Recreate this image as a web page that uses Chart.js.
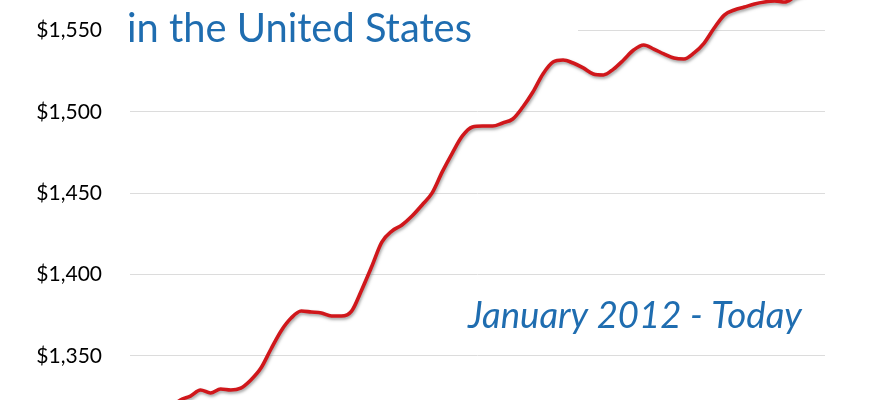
<!DOCTYPE html>
<html>
<head>
<meta charset="utf-8">
<script src="https://cdn.jsdelivr.net/npm/chart.js@4.4.0/dist/chart.umd.min.js"></script>
<style>
html,body{margin:0;padding:0;background:#fff;overflow:hidden;}
#c{display:block;}
</style>
</head>
<body>
<canvas id="c" width="870" height="400"></canvas>
<script>
// Monthly labels, January 2012 onward
const startYear = 2012;
const monthNames = ["Jan","Feb","Mar","Apr","May","Jun","Jul","Aug","Sep","Oct","Nov","Dec"];
const values = [
  1300,1305,1310,1314,1318,1323,1325.4,1329.1,1327.3,1329.7,
  1329.1,1330.3,1335.3,1342.6,1354.3,1365.4,1373.3,1377.6,1377.0,1376.4,
  1374.6,1374.6,1377.6,1390.6,1405.0,1420.0,1426.8,1430.5,1436.0,1442.8,
  1450.2,1463.1,1474.7,1485.2,1490.7,1491.3,1491.3,1493.2,1495.6,1503.0,
  1512.2,1523.3,1530.6,1531.9,1530.0,1527.0,1523.3,1522.7,1526.3,1531.9,
  1538.0,1541.1,1538.6,1535.6,1533.1,1532.5,1536.2,1542.3,1551.5,1559.5,
  1562.6,1564.4,1566.3,1567.5,1568.1,1567.5,1570.6,1573.0,1575.0,1577.0
];
const categories = values.map((v,i)=> monthNames[i%12] + " " + (startYear + Math.floor(i/12)));
const tickValues = [1350,1400,1450,1500,1550];
const titleText = "in the United States";
const subtitleText = "January 2012 - Today";

const BLUE = "#1f6db0";
const RED = "#d0171b";

const overlay = {
  id: "overlay",
  beforeDatasetsDraw(chart) {
    const ctx = chart.ctx;
    ctx.save();
    // white box behind title (covers top gridline)
    ctx.fillStyle = "#fff";
    ctx.fillRect(120, 0, 458, 56);
    ctx.fillStyle = BLUE;
    ctx.textBaseline = "alphabetic";
    ctx.textAlign = "left";
    let fs = 36;
    ctx.font = fs + "px Lato";
    let w = ctx.measureText(titleText).width;
    fs = fs * 345 / w;
    ctx.font = fs.toFixed(2) + "px Lato";
    ctx.fillText(titleText, 127, 41.5);
    let fs2 = 36;
    ctx.font = "italic " + fs2 + "px Lato";
    w = ctx.measureText(subtitleText).width;
    fs2 = fs2 * 334 / w;
    ctx.font = "italic " + fs2.toFixed(2) + "px Lato";
    ctx.fillText(subtitleText, 468, 328);
    ctx.restore();
  },
  beforeDatasetDraw(chart) {
    const ctx = chart.ctx;
    ctx.save();
    ctx.shadowColor = "rgba(90,90,90,0.55)";
    ctx.shadowBlur = 3;
    ctx.shadowOffsetX = 1;
    ctx.shadowOffsetY = 2;
  },
  afterDatasetDraw(chart) {
    chart.ctx.restore();
  }
};

new Chart(document.getElementById("c"), {
  type: "line",
  data: {
    labels: categories,
    datasets: [{
      data: values,
      borderColor: RED,
      borderWidth: 3.6,
      pointRadius: 0,
      tension: 0.4,
      cubicInterpolationMode: "monotone",
      fill: false
    }]
  },
  options: {
    responsive: false,
    animation: false,
    layout: { padding: { left: 0, right: 45, top: 0, bottom: 0 } },
    plugins: { legend: { display: false }, tooltip: { enabled: false } },
    scales: {
      x: {
        display: false,
        afterFit(scale) { scale.paddingLeft = 0; scale.paddingRight = 0; }
      },
      y: {
        min: 1322.96,
        max: 1568.74,
        afterBuildTicks(scale) { scale.ticks = tickValues.map(v => ({ value: v })); },
        afterFit(scale) { scale.width = 130; scale.paddingTop = 0; scale.paddingBottom = 0; },
        border: { display: false },
        grid: { color: "#dcdcdc", lineWidth: 1, drawTicks: false },
        ticks: {
          padding: 28,
          color: "#000",
          font: { family: "Lato", size: 21 },
          callback: v => "$" + Number(v).toLocaleString("en-US")
        }
      }
    }
  },
  plugins: [overlay]
});
</script>
</body>
</html>
